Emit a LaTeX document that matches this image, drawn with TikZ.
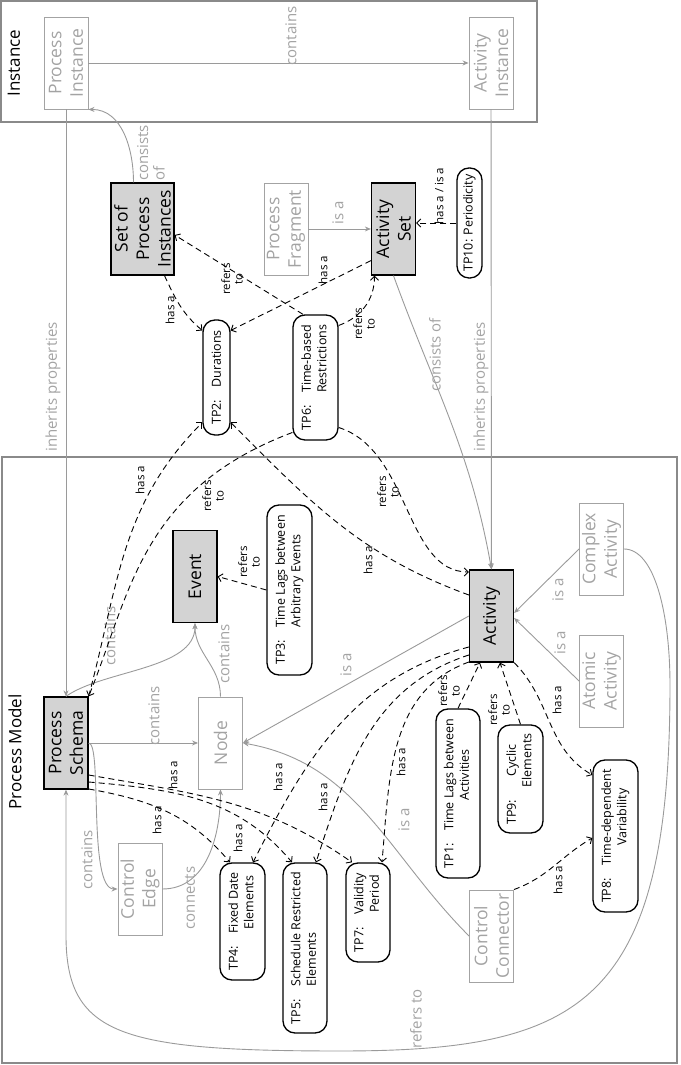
\documentclass[tikz,border=0pt]{standalone}
\usepackage{fontspec}
\setmainfont{Open Sans}
\usetikzlibrary{arrows.meta}
\definecolor{conceptgray}{HTML}{A3A3A3}
\definecolor{linegray}{HTML}{9A9A9A}
\definecolor{framegray}{HTML}{8A8A8A}
\definecolor{keyfill}{HTML}{D3D3D3}
\newcommand{\tptext}[3]{#1\hspace{1em}\begin{tabular}[t]{@{}#2@{}}#3\end{tabular}}

\begin{document}
\begin{tikzpicture}[x=1pt,y=1pt]
        \tikzstyle{box}=[rectangle, minimum width=92pt, minimum height=44pt, inner sep=0.5pt, align=center, font=\fontsize{17.5}{21.5}\selectfont]
        \tikzstyle{concept}=[box, draw=conceptgray, text=conceptgray, line width=0.9pt]
        \tikzstyle{key}=[box, draw=black, fill=keyfill, line width=1.3pt]
        \tikzstyle{tp}=[draw=black, line width=1.3pt, rounded corners=12pt, inner sep=0pt, font=\fontsize{12.5}{15.5}\selectfont]
        \tikzstyle{rel}=[draw=linegray, line width=0.9pt, -{Stealth[length=6pt,width=5pt]}]
        \tikzstyle{dep}=[draw=black, line width=0.9pt, dash pattern=on 6pt off 4pt, -{Straight Barb[length=4pt,width=8pt]}]
        \tikzstyle{lbl}=[inner sep=0pt, align=center, font=\fontsize{11.5}{12.5}\selectfont]
        \tikzstyle{glbl}=[inner sep=0pt, text=conceptgray, font=\fontsize{15}{16.5}\selectfont]
        \tikzstyle{title}=[inner sep=0pt, font=\fontsize{17}{20}\selectfont]
        \begin{scope}[rotate=90, transform shape]
        \useasboundingbox (0,0) rectangle (1065,680);
        \draw[framegray, line width=1.2pt] (943,143) rectangle (1064,679);
        \draw[framegray, line width=1.2pt] (2,3) rectangle (608,678);
        \node[title] (insttitle) at (1002,666) {Instance};
        \node[title] (modeltitle) at (313,665) {Process Model};

        \node[concept] (procinst) at (1002,614) {Process\\Instance};
        \node[concept] (actinst) at (1002,189) {Activity\\Instance};
        \node[key, minimum height=63pt] (procset) at (836,537.5) {Set of\\Process\\Instances};
        \node[concept] (procfrag) at (836,394) {Process\\Fragment};
        \node[key] (actset) at (836,286.5) {Activity\\Set};
        \node[tp, minimum width=110pt, minimum height=25pt] (tp10) at (842,210.5) {TP10: Periodicity};
        \node[tp, minimum width=115pt, minimum height=27pt] (tp2) at (687.5,463.5) {TP2:\hspace{1em}Durations};
        \node[tp, minimum width=125pt, minimum height=45pt] (tp6) at (687.5,364.5) {\tptext{TP6:}{c}{Time-based\\Restrictions}};
        \node[tp, minimum width=170pt, minimum height=45pt] (tp3) at (475,390.5) {\tptext{TP3:}{l}{Time Lags between\\Arbitrary Events}};
        \node[key] (event) at (488.5,485) {Event};
        \node[concept] (flownode) at (322,459.5) {Node};
        \node[key] (schema) at (322,614) {Process\\Schema};
        \node[key] (activity) at (449,188.5) {Activity};
        \node[concept] (complex) at (516,78.5) {Complex\\Activity};
        \node[concept] (atomic) at (384,78.5) {Atomic\\Activity};
        \node[concept] (ctrledge) at (176,540) {Control\\Edge};
        \node[concept] (ctrlconn) at (129,188.5) {Control\\Connector};
        \node[tp, minimum width=117pt, minimum height=45pt] (tp4) at (143.5,437.5) {\tptext{TP4:}{c}{Fixed Date\\Elements}};
        \node[tp, minimum width=170pt, minimum height=44pt] (tp5) at (117,375) {\tptext{TP5:}{l}{Schedule Restricted\\Elements}};
        \node[tp, minimum width=99pt, minimum height=44pt] (tp7) at (152.5,312) {\tptext{TP7:}{c}{Validity\\Period}};
        \node[tp, minimum width=169pt, minimum height=44pt] (tp1) at (271.5,222) {\tptext{TP1:}{c}{Time Lags between\\Activities}};
        \node[tp, minimum width=108pt, minimum height=45pt] (tp9) at (286,159.5) {\tptext{TP9:}{c}{Cyclic\\Elements}};
        \node[tp, minimum width=152pt, minimum height=45pt] (tp8) at (229,64.5) {\tptext{TP8:}{c}{Time-dependent\\Variability}};

        \draw[rel] (procinst) -- (actinst) node[glbl] at (1029,389) {contains};
        \draw[rel] (procinst) -- (schema) node[glbl] at (678,627) {inherits properties};
        \draw[rel] (actinst) -- (activity) node[glbl] at (678,199) {inherits properties};
        \draw[rel] ([yshift=9pt]procset.east) to[out=0,in=-90] (procinst.south west) node[glbl, align=left] at (912,529) {consists\\of};
        \draw[rel] (actset.west) to[out=200,in=10] (activity.east) node[glbl] at (710,245) {consists of};
        \draw[rel] (procfrag) -- (actset) node[glbl] at (852,342) {is a};
        \draw[rel] (complex.north) -- ([xshift=3pt]activity.south) node[glbl] at (475,122) {is a};
        \draw[rel] (atomic.north) -- ([xshift=-2pt]activity.south) node[glbl] at (422,120) {is a};
        \draw[rel] (activity.north) -- (flownode.south) node[glbl] at (400,334) {is a};
        \draw[rel] (ctrlconn.north) to[out=45,in=-100] (flownode.south) node[glbl] at (245,276) {is a};
        \draw[rel] (schema) -- (flownode) node[glbl] at (349,526) {contains};
        \draw[rel] (schema.east) to[out=-55,in=180,looseness=0.8] (event.west) node[glbl] at (429,570) {contains};
        \draw[rel] (flownode.east) to[out=0,in=180] (event.west) node[glbl] at (411,456) {contains};
        \draw[rel] (schema.south) .. controls +(0,-14) and +(0,30) .. (ctrledge.north) node[glbl] at (205,593) {contains};
        \draw[rel] (ctrledge.south) to[out=-90,in=180] (flownode.west) node[glbl] at (167,490) {connects};
        \draw[rel] (complex.south) .. controls (516,25) and (450,10) .. (380,10) .. controls (60,10) and (14,100) .. (14,340) .. controls (14,560) and (30,614) .. (130,614) -- (schema.west) node[glbl] at (46,264) {refers to};

        \draw[dep] ([yshift=-22pt]procset.west) to[out=205,in=50] ([xshift=47pt]tp2.north) node[lbl] at (755,510) {has a};
        \draw[dep] ([xshift=15pt]actset.north west) -- ([xshift=47pt]tp2.south) node[lbl] at (795,357) {has a};
        \draw[dep] ([yshift=12.5pt]tp6.east) -- ([xshift=-6pt]procset.south) node[lbl] at (786,448) {refers\\to};
        \draw[dep] ([xshift=52pt]tp6.south) to[out=-70,in=180] ([yshift=19pt]actset.west) node[lbl] at (741,316) {refers\\to};
        \draw[dep] ([xshift=-50pt]tp6.south) .. controls (615,270) and (493,275) .. ([xshift=44pt]activity.north) node[lbl] at (573,292) {refers\\to};
        \draw[dep] (schema.south east) to[out=-15,in=135] ([xshift=-45pt]tp2.north) node[lbl] at (585,540) {has a};
        \draw[dep] ([xshift=-55pt]tp6.north) .. controls (575,540) and (470,550) .. (schema.south east) node[lbl] at (569,467) {refers\\to};
        \draw[dep] ([xshift=21pt]activity.north) to[out=70,in=-135] ([xshift=-45pt]tp2.south) node[lbl] at (505,312) {has a};
        \draw[dep] ([xshift=-31pt]activity.north) to[out=105,in=-27] ([yshift=-10.5pt]tp4.east) node[lbl] at (288,402) {has a};
        \draw[dep] ([xshift=-39pt]activity.north) to[out=108,in=-18] ([yshift=-11pt]tp5.east) node[lbl] at (268,357) {has a};
        \draw[dep] ([xshift=-46pt]activity.north) to[out=110,in=-5] ([yshift=-14pt]tp7.east) node[lbl] at (303,279) {has a};
        \draw[dep] ([xshift=-46pt]schema.south) to[out=-100,in=40] ([yshift=12.5pt]tp4.east) node[lbl] at (245,523) {has a};
        \draw[dep] ([xshift=-39pt]schema.south) to[out=-95,in=40] ([yshift=13pt]tp5.east) node[lbl] at (227,442) {has a};
        \draw[dep] ([xshift=-32pt]schema.south) to[out=-100,in=55] ([yshift=16pt]tp7.east) node[lbl] at (290,507) {has a};
        \draw[dep] (tp10.north) -- ([xshift=6pt]actset.south) node[lbl] at (869,241) {has a / is a};
        \draw[dep] (tp1.east) -- ([yshift=11.5pt]activity.west) node[lbl] at (374,231) {refers\\to};
        \draw[dep] (tp9.east) -- ([yshift=-8.5pt]activity.west) node[lbl] at (355,181) {refers\\to};
        \draw[dep] (activity.south west) to[out=-135,in=60] ([xshift=61pt]tp8.north) node[lbl] at (365,123) {has a};
        \draw[dep] (ctrlconn.south east) to[out=-70,in=120] ([xshift=-2pt]tp8.north) node[lbl] at (185,122) {has a};
        \draw[dep] (tp3.north) -- (event.south) node[lbl] at (503,431) {refers\\to};
        \end{scope}
\end{tikzpicture}
\end{document}
